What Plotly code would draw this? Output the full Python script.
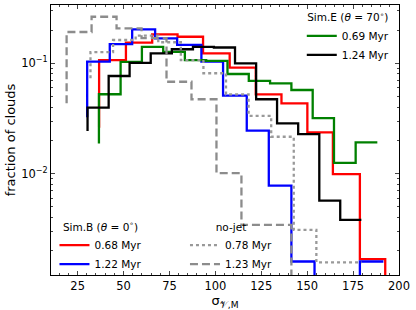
import plotly.graph_objects as go

# ---------------- data ----------------
# each series: bin edges, value at the first edge (start of the step line), level per bin
simB_068_edges = [36.7, 51.3, 65.6, 79.4, 93.3, 107.8, 122.0, 136.0, 150.1, 164.0, 178.7, 192.5, 206.3]
simB_068_start = 0.026
simB_068_vals = [0.107, 0.154, 0.183, 0.174, 0.123, 0.0912, 0.0523, 0.0434, 0.0237, 0.0099, 0.00168, 0]

simB_122_edges = [30.2, 42.5, 54.7, 67.2, 79.2, 92.4, 104.2, 117.1, 129.1, 141.4, 154.0, 166.3, 178.7, 191.5]
simB_122_start = 0.0324
simB_122_vals = [0.1035, 0.149, 0.203, 0.168, 0.147, 0.1035, 0.0509, 0.0245, 0.00778, 0.0016, 0, 0, 0.0016]

simE_069_edges = [36.6, 48.4, 60.0, 71.6, 83.4, 95.0, 106.6, 118.2, 129.8, 141.4, 153.0, 164.6, 176.4, 188.2]
simE_069_start = 0.0188
simE_069_vals = [0.0524, 0.103, 0.141, 0.127, 0.107, 0.105, 0.080, 0.0692, 0.0659, 0.0573, 0.0318, 0.0125, 0.0192]

simE_124_edges = [30.4, 41.9, 53.3, 64.8, 76.3, 87.8, 99.2, 110.7, 122.2, 133.6, 145.1, 156.6, 168.0, 179.5]
simE_124_start = 0.0244
simE_124_vals = [0.0397, 0.0767, 0.101, 0.123, 0.134, 0.141, 0.139, 0.100, 0.0472, 0.0286, 0.0228, 0.00569, 0.00381]

nojet_078_edges = [32.0, 44.3, 56.6, 68.9, 81.2, 93.5, 105.8, 118.1, 130.4, 142.7, 155.0, 167.3, 179.6]
nojet_078_start = 0.0731
nojet_078_vals = [0.126, 0.1625, 0.178, 0.155, 0.107, 0.0812, 0.0523, 0.0334, 0.0216, 0.00309, 0.00157, 0.00157]

nojet_123_edges = [19.0, 32.6, 46.2, 59.8, 73.4, 87.0, 100.6, 114.2, 127.8, 141.4, 155.0]
nojet_123_start = 0.0435
nojet_123_vals = [0.192, 0.264, 0.207, 0.169, 0.068, 0.0472, 0.0101, 0.00343, 0.00343, 0]

x_ticks = [25, 50, 75, 100, 125, 150, 175, 200]
y_ticks = [0.01, 0.1]
y_ticklabels = ["10<sup>\u22122</sup>", "10<sup>\u22121</sup>"]

FLOOR = 1e-6  # empty bins are clipped far below the axis (like matplotlib's log clip)


def step_xy(edges, start, vals):
    ys = [start] + list(vals)
    ys = [v if v > 0 else FLOOR for v in ys]
    return list(edges), ys


FONT = "DejaVu Sans"
fig = go.Figure()

series = [
    (simB_068_edges, simB_068_start, simB_068_vals, "red", "solid", "0.68 Myr", "legend2"),
    (simB_122_edges, simB_122_start, simB_122_vals, "blue", "solid", "1.22 Myr", "legend2"),
    (simE_069_edges, simE_069_start, simE_069_vals, "green", "solid", "0.69 Myr", "legend"),
    (simE_124_edges, simE_124_start, simE_124_vals, "black", "solid", "1.24 Myr", "legend"),
    (nojet_078_edges, nojet_078_start, nojet_078_vals, "#999999", "dot", "0.78 Myr", "legend3"),
    (nojet_123_edges, nojet_123_start, nojet_123_vals, "#8c8c8c", "8px,4px", "1.23 Myr", "legend3"),
]

for edges, start, vals, color, dash, name, leg in series:
    xs, ys = step_xy(edges, start, vals)
    fig.add_trace(go.Scatter(
        x=xs, y=ys, mode="lines", name=name, legend=leg,
        line=dict(color=color, width=2.3, dash=dash, shape="vh"),
    ))

legend_common = dict(
    bgcolor="rgba(0,0,0,0)", font=dict(family=FONT, size=10.5, color="black"),
    itemwidth=30, tracegroupgap=0,
)

fig.update_layout(
    width=416, height=310,
    margin=dict(l=51, r=17, t=5, b=35),
    paper_bgcolor="white", plot_bgcolor="white",
    font=dict(family=FONT, size=11.5, color="black"),
    showlegend=True,
    legend=dict(x=0.985, y=0.99, xanchor="right", yanchor="top",
                title=dict(text="Sim.E (<i>\u03b8</i> = 70<sup>\u2218</sup>)", side="top center",
                           font=dict(family=FONT, size=10.5)),
                **legend_common),
    legend2=dict(x=0.01, y=0.215, xanchor="left", yanchor="top",
                 title=dict(text="Sim.B (<i>\u03b8</i> = 0<sup>\u2218</sup>)", side="top center",
                            font=dict(family=FONT, size=10.5)),
                 **legend_common),
    legend3=dict(x=0.385, y=0.215, xanchor="left", yanchor="top",
                 title=dict(text="no-jet", side="top center",
                            font=dict(family=FONT, size=10.5)),
                 **legend_common),
    xaxis=dict(
        range=[10.5, 200], tickvals=x_ticks, ticks="inside", ticklen=4, tickwidth=1,
        showline=True, linecolor="black", linewidth=1, mirror="allticks",
        showgrid=False, zeroline=False,
        minor=dict(ticks="inside", ticklen=2, dtick=5, tick0=0, showgrid=False),
        title=dict(text="\u03c3<sub>\U0001D4B1,M</sub>", font=dict(family=FONT, size=13), standoff=2),
        tickfont=dict(family=FONT, size=11.5),
    ),
    yaxis=dict(
        type="log", range=[-2.918, -0.472], tickvals=y_ticks, ticktext=y_ticklabels,
        ticks="inside", ticklen=4, tickwidth=1,
        showline=True, linecolor="black", linewidth=1, mirror="allticks",
        showgrid=False, zeroline=False,
        minor=dict(ticks="inside", ticklen=2, dtick="D1", showgrid=False),
        title=dict(text="fraction of clouds", font=dict(family=FONT, size=13), standoff=2),
        tickfont=dict(family=FONT, size=11.5),
    ),
)

fig.write_html("out.html", config={"displayModeBar": False},
               post_script="document.body.style.margin='0';")
